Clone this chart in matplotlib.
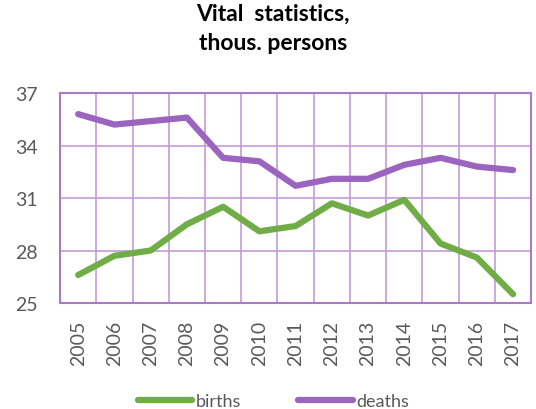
import matplotlib
matplotlib.use("Agg")
import matplotlib.pyplot as plt
import numpy as np

years = ["2005", "2006", "2007", "2008", "2009", "2010", "2011",
         "2012", "2013", "2014", "2015", "2016", "2017"]
births = [26.6, 27.7, 28.0, 29.5, 30.5, 29.1, 29.4, 30.7, 30.0, 30.9, 28.4, 27.6, 25.5]
deaths = [35.8, 35.2, 35.4, 35.6, 33.3, 33.1, 31.7, 32.1, 32.1, 32.9, 33.3, 32.8, 32.6]
yticks = [25, 28, 31, 34, 37]

plt.rcParams['font.family'] = ['Lato', 'DejaVu Sans']

fig = plt.figure(figsize=(5.36, 4.10), dpi=100)
ax = fig.add_axes([0.112, 0.2585, 0.879, 0.512])

x = np.arange(len(years))
ax.plot(x, births, color='#70AD47', lw=4.5, solid_capstyle='round', label='births')
ax.plot(x, deaths, color='#9B64BE', lw=4.5, solid_capstyle='round', label='deaths')

ax.set_xlim(-0.5, len(years) - 0.5)
ax.set_ylim(25, 37)
ax.set_yticks(yticks)
ax.set_xticks(x)
ax.set_xticklabels(years, rotation=90)
ax.set_xticks(np.arange(-0.5, len(years)), minor=True)
ax.grid(True, which='minor', axis='x', color='#C39BD8', lw=1.2)
ax.grid(True, which='major', axis='y', color='#C39BD8', lw=1.2)
ax.tick_params(which='both', length=0, labelsize=14, labelcolor='#595959')
ax.tick_params(axis='x', pad=12)
ax.tick_params(axis='y', pad=16)
for s in ax.spines.values():
    s.set_color('#A77BC8')
    s.set_linewidth(1.5)
ax.set_axisbelow(True)

fig.suptitle("Vital  statistics,\nthous. persons", x=0.51, y=0.99, fontsize=16.5,
             fontweight='bold', linespacing=1.45)
fig.legend(loc='lower center', ncol=2, frameon=False, fontsize=13,
           bbox_to_anchor=(0.51, -0.04), handlelength=3.0, columnspacing=3.2,
           labelcolor='#595959', handletextpad=0.2)

fig.savefig("out.png", dpi=100)
